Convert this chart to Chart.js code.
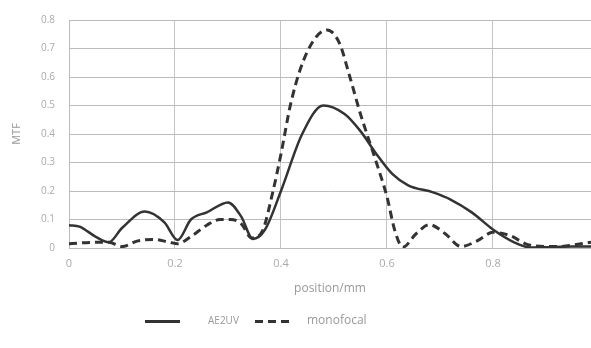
<!DOCTYPE html>
<html>
<head>
<meta charset="utf-8">
<script src="https://cdn.jsdelivr.net/npm/chart.js@4.4.1/dist/chart.umd.min.js"></script>
<style>
  html, body { margin: 0; padding: 0; background: #fff; overflow: hidden; }
  #wrap { position: relative; width: 591px; height: 348px; }
  .leg { position: absolute; top: 313px; font-family: 'Open Sans', sans-serif; font-size: 10px; color: #999; }
  .ln { position: absolute; top: 320px; width: 35px; height: 3px; }
</style>
</head>
<body>
<div id="wrap">
  <canvas id="mtf" width="591" height="348"></canvas>
  <div class="ln" style="left:145px;background:#333"></div>
  <div class="leg" style="left:208px">AE2UV</div>
  <div class="ln" style="left:255px;background:repeating-linear-gradient(90deg,#333 0 8px,transparent 8px 13px)"></div>
  <div class="leg" style="left:307px;top:311px;font-size:12px">monofocal</div>
</div>
<script>
const aeX = [0, 0.02, 0.05, 0.075, 0.1, 0.143, 0.18, 0.205, 0.23, 0.26, 0.30, 0.325, 0.347, 0.37, 0.40, 0.44, 0.48, 0.52, 0.55, 0.58, 0.61, 0.64, 0.687, 0.72, 0.76, 0.80, 0.84, 0.87, 0.90, 0.95, 0.985];
const aeY = [0.08, 0.075, 0.04, 0.02, 0.07, 0.128, 0.09, 0.028, 0.1, 0.125, 0.16, 0.11, 0.032, 0.065, 0.2, 0.4, 0.5, 0.47, 0.41, 0.33, 0.26, 0.22, 0.195, 0.17, 0.125, 0.065, 0.02, 0.002, 0.003, 0.005, 0.005];
const monoX = [0, 0.05, 0.075, 0.1, 0.13, 0.16, 0.19, 0.205, 0.23, 0.26, 0.285, 0.305, 0.325, 0.345, 0.365, 0.385, 0.40, 0.42, 0.45, 0.487, 0.51, 0.53, 0.55, 0.58, 0.60, 0.615, 0.63, 0.655, 0.68, 0.71, 0.74, 0.77, 0.80, 0.83, 0.87, 0.92, 0.985];
const monoY = [0.015, 0.02, 0.02, 0.005, 0.025, 0.03, 0.02, 0.015, 0.04, 0.08, 0.1, 0.1, 0.085, 0.035, 0.06, 0.2, 0.33, 0.52, 0.69, 0.765, 0.72, 0.6, 0.47, 0.3, 0.18, 0.06, 0.003, 0.05, 0.082, 0.05, 0.005, 0.025, 0.055, 0.045, 0.01, 0.005, 0.02];
const yTicks = [0, 0.1, 0.2, 0.3, 0.4, 0.5, 0.6, 0.7, 0.8];
const xTicks = [0, 0.2, 0.4, 0.6, 0.8];

const pts = (xs, ys) => xs.map((x, i) => ({ x: x, y: ys[i] }));

new Chart(document.getElementById('mtf'), {
    type: 'line',
    data: {
        datasets: [
            { label: 'AE2UV', data: pts(aeX, aeY), borderColor: '#333', borderWidth: 2.5, pointRadius: 0, tension: 0.4, cubicInterpolationMode: 'monotone' },
            { label: 'monofocal', data: pts(monoX, monoY), borderColor: '#333', borderWidth: 3, borderDash: [8, 5], pointRadius: 0, tension: 0.4, cubicInterpolationMode: 'monotone' }
        ]
    },
    options: {
        responsive: false, animation: false,
        layout: { padding: { top: 11, right: 0, bottom: 48, left: 0 } },
        plugins: { legend: { display: false }, tooltip: { enabled: false } },
        scales: {
            x: {
                type: 'linear', min: 0, max: 0.985,
                afterFit: s => { s.height = 52; },
                afterBuildTicks: s => { s.ticks = xTicks.map(v => ({ value: v })); },
                grid: { color: '#c4c4c4', drawTicks: false },
                border: { color: '#bbb' },
                ticks: { color: '#aaa', padding: 9, font: { family: 'Open Sans', size: 11 }, callback: v => String(v) },
                title: { display: true, text: 'position/mm', color: '#999', padding: { top: 2 }, font: { family: 'Open Sans', size: 12 } }
            },
            y: {
                min: 0, max: 0.8,
                afterFit: s => { s.width = 69; },
                afterBuildTicks: s => { s.ticks = yTicks.map(v => ({ value: v })); },
                grid: { color: '#bbb', borderDash: [2, 1], drawTicks: false },
                border: { color: '#bbb' },
                ticks: { color: '#aaa', padding: 14, font: { family: 'Open Sans', size: 10 }, callback: v => String(v) },
                title: { display: true, text: 'MTF', color: '#999', padding: { top: 10, bottom: 0 }, font: { family: 'Open Sans', size: 11 } }
            }
        }
    }
});
</script>
</body>
</html>
